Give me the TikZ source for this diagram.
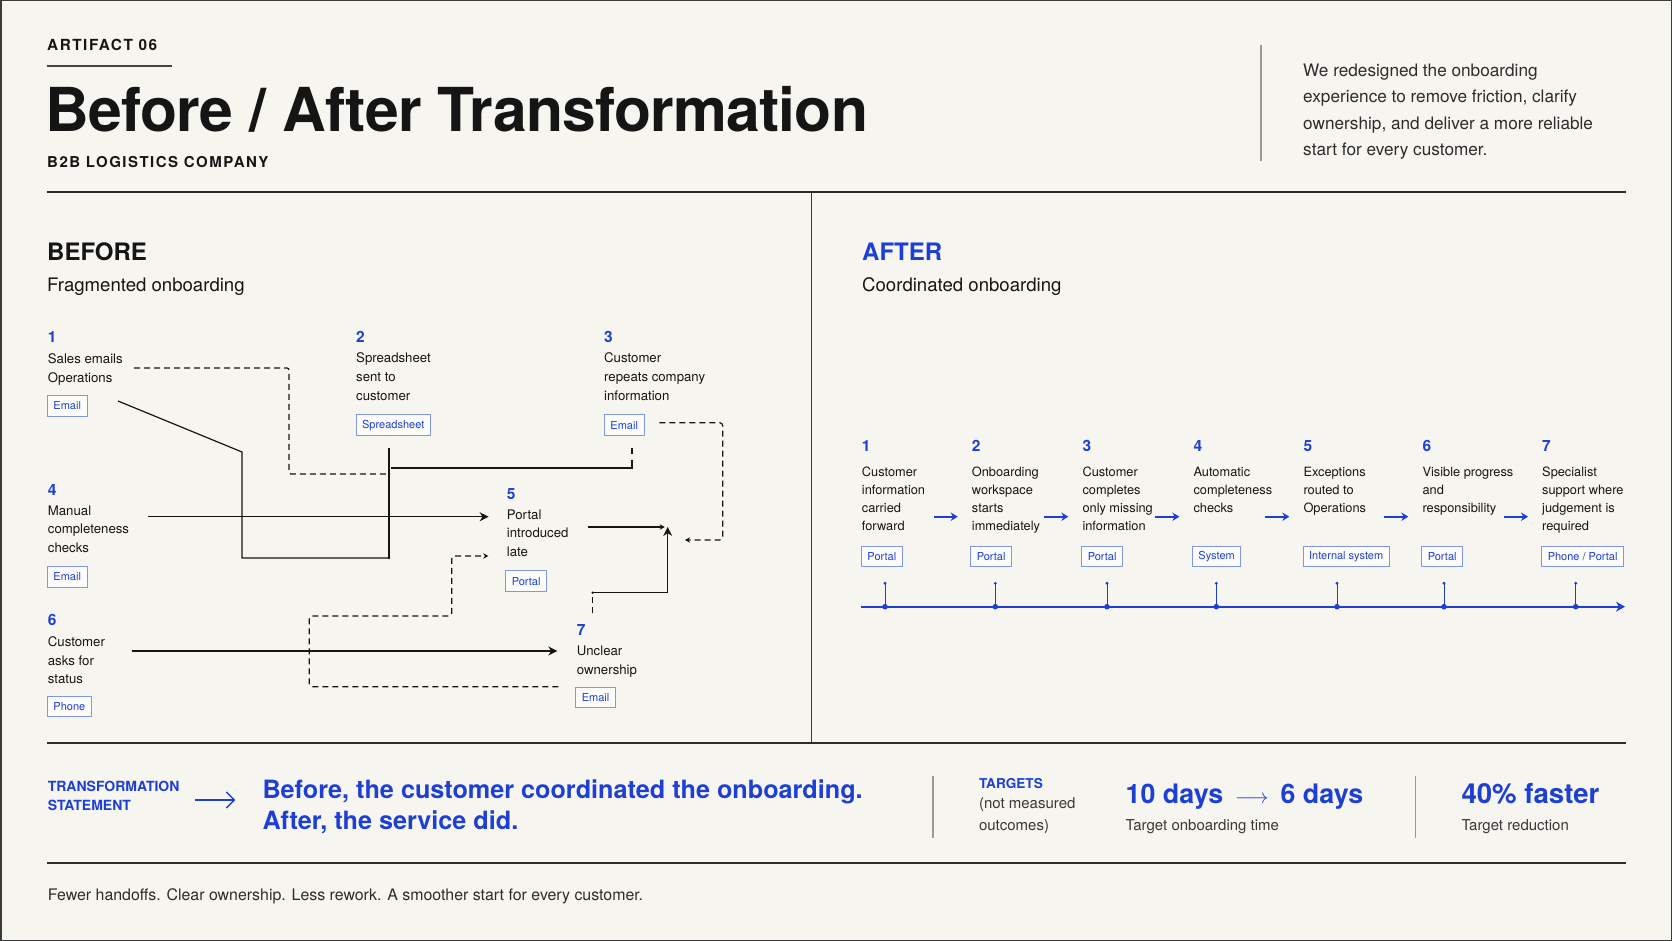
\documentclass[tikz,border=0pt]{standalone}
\usepackage{fontspec}
\setmainfont{TeX Gyre Heros}
\newfontfamily\trackfont[LetterSpace=10]{TeX Gyre Heros}
\newfontfamily\titlefont[LetterSpace=-1.2]{TeX Gyre Heros}
\usepackage{xcolor}
\usetikzlibrary{arrows.meta, positioning}

\definecolor{paper}{HTML}{F7F5F0}
\definecolor{ink}{HTML}{151515}
\definecolor{accent}{HTML}{1D3FD4}
\definecolor{tagline}{HTML}{8197E6}
\definecolor{tagfill}{HTML}{FCFCFB}
\definecolor{rulegray}{HTML}{9A9A9A}
\definecolor{frame}{HTML}{3A3A3A}

\newcommand{\fsz}[2]{\fontsize{#1}{#2}\selectfont}

\begin{document}
\begin{tikzpicture}[
        x=1pt, y=-1pt,
        num/.style={font=\fsz{15.5}{18}\bfseries, text=accent, inner sep=0, anchor=base west},
        btxt/.style={font=\fsz{13.2}{18.8}, text=ink, inner sep=0, anchor=north west, align=left},
        atxt/.style={font=\fsz{12.8}{18}, text=ink, inner sep=0, anchor=north west, align=left},
        tagbox/.style={draw=tagline, fill=tagfill, text=accent, font=\fsz{11}{13},
                       line width=0.9pt, inner xsep=6pt, inner ysep=0pt,
                       minimum height=20.7pt, anchor=north west},
        plain/.style={inner sep=0, anchor=base west, text=ink},
        flow/.style={ink, line width=1.2pt},
        dflow/.style={flow, dash pattern=on 6pt off 4pt},
        flowtip/.style={-{Stealth[length=9pt,width=9pt]}},
        stubtip/.style={-{Stealth[length=5pt,width=5.5pt]}},
        aarr/.style={accent, line width=1.6pt, -{Stealth[length=7pt,width=8.5pt]}},
        hrule/.style={ink!90, line width=1.6pt},
        divider/.style={rulegray, line width=1.2pt}
    ]
        \useasboundingbox (0,0) rectangle (1672,941);
        \fill[paper] (0,0) rectangle (1672,941);
        \draw[frame, line width=3pt] (0,0) rectangle (1672,941);

        % header
        \node[plain, font=\trackfont\fsz{15.3}{18}\bfseries] (artifact) at (47,50.7) {ARTIFACT 06};
        \draw[ink!80, line width=2pt] (47,65.7) -- (172,65.7);
        \node[plain, font=\titlefont\fsz{60.6}{66}\bfseries] (title) at (45,131.7) {Before / After Transformation};
        \node[plain, font=\trackfont\fsz{15}{18}\bfseries] (company) at (47,167.3) {B2B LOGISTICS COMPANY};
        \draw[divider, line width=1.5pt] (1261,45) -- (1261,161);
        \node[btxt, font=\fsz{17.2}{26.5}, text=ink!90] (intro) at (1303,63.5)
            {We redesigned the onboarding\\experience to remove friction, clarify\\ownership, and deliver a more reliable\\start for every customer.};
        \draw[hrule] (47,192) -- (1626,192);
        \draw[ink!85, line width=1.3pt] (811.5,192) -- (811.5,743);

        % before
        \node[plain, font=\fsz{24}{28}\bfseries] (before) at (47,260.7) {BEFORE};
        \node[plain, font=\fsz{18.6}{22}] (beforesub) at (47,291.7) {Fragmented onboarding};

        \coordinate (b1dash) at (134,368);
        \coordinate (b1line) at (118,401);
        \coordinate (b2drop) at (389,448);
        \coordinate (b2foot) at (389,558);
        \coordinate (b3drop) at (632,448);
        \coordinate (b3join) at (391,468);
        \coordinate (b4out) at (148,516.7);
        \coordinate (b5in) at (488.6,516.7);
        \coordinate (b6out) at (131.7,651);
        \coordinate (b7in) at (557.3,651);
        \coordinate (b5out) at (588.3,527);
        \coordinate (hub) at (667.7,527);
        \coordinate (b7out) at (592.7,613.3);
        \coordinate (b7turn) at (592.7,592.7);
        \coordinate (b3out) at (659.3,422.7);
        \coordinate (b3back) at (685,540);
        \coordinate (b7back) at (558.3,686.7);
        \coordinate (b5back) at (488.3,556);

        \draw[dflow, rounded corners=2pt] (b1dash) -- (289,368) -- (289,474) -- (390,474);
        \draw[flow] (b1line) -- (242,452) |- (b2foot);
        \draw[flow] (b2drop) -- (b2foot);
        \fill[ink] (b2foot) circle[radius=1.4pt];
        \draw[dflow] (b3drop) -- (632,458);
        \draw[flow] (632,460) |- (b3join);
        \draw[flow, flowtip] (b4out) -- (b5in);
        \draw[flow, flowtip] (b6out) -- (b7in);
        \draw[flow, stubtip] (b5out) -- ([xshift=-3pt]hub);
        \draw[dflow] (b7out) -- (592.7,597);
        \draw[flow, flowtip] (b7turn) -| (hub);
        \fill[ink] (b7turn) circle[radius=1.3pt];
        \draw[dflow, rounded corners=3pt, stubtip] (b3out) -- (722.7,422.7) -- (722.7,540) -- (b3back);
        \draw[dflow, rounded corners=3pt, stubtip] (b7back) -- (309.3,686.7) -- (309.3,616)
            -- (451.7,616) -- (451.7,556) -- (b5back);

        \node[num] (bn1) at (47.7,342.7) {1};
        \node[btxt] (bt1) at (47.7,353.3) {Sales emails\\Operations};
        \node[tagbox] (bg1) at (47,395) {Email};
        \node[num] (bn2) at (356,342.3) {2};
        \node[btxt] (bt2) at (356,352.7) {Spreadsheet\\sent to\\customer};
        \node[tagbox] (bg2) at (355.7,414.3) {Spreadsheet};
        \node[num] (bn3) at (604,342.3) {3};
        \node[btxt] (bt3) at (604,352.7) {Customer\\repeats company\\information};
        \node[tagbox] (bg3) at (604,414.3) {Email};
        \node[num] (bn4) at (47.7,495) {4};
        \node[btxt] (bt4) at (47.7,505.3) {Manual\\completeness\\checks};
        \node[tagbox] (bg4) at (47,566) {Email};
        \node[num] (bn5) at (506.7,499) {5};
        \node[btxt] (bt5) at (506.7,509.3) {Portal\\introduced\\late};
        \node[tagbox] (bg5) at (505.3,570.3) {Portal};
        \node[num] (bn6) at (47.7,625.7) {6};
        \node[btxt] (bt6) at (47.7,636.3) {Customer\\asks for\\status};
        \node[tagbox] (bg6) at (47,695.7) {Phone};
        \node[num] (bn7) at (576.7,635.7) {7};
        \node[btxt] (bt7) at (576.7,645.7) {Unclear\\ownership};
        \node[tagbox] (bg7) at (575.3,686.7) {Email};

        % after
        \node[plain, font=\fsz{24}{28}\bfseries, text=accent] (after) at (862,260.7) {AFTER};
        \node[plain, font=\fsz{18.6}{22}] (aftersub) at (862,291.7) {Coordinated onboarding};

        \node[num] (an1) at (861.7,451.7) {1};
        \node[atxt] (at1) at (861.7,466.7) {Customer\\information\\carried\\forward};
        \node[tagbox] (ag1) at (861,545.7) {Portal};
        \node[num] (an2) at (971.7,451.7) {2};
        \node[atxt] (at2) at (971.7,466.7) {Onboarding\\workspace\\starts\\immediately};
        \node[tagbox] (ag2) at (970.3,545.7) {Portal};
        \node[num] (an3) at (1082.3,451.7) {3};
        \node[atxt] (at3) at (1082.3,466.7) {Customer\\completes\\only missing\\information};
        \node[tagbox] (ag3) at (1081.3,545.7) {Portal};
        \node[num] (an4) at (1193.3,451.7) {4};
        \node[atxt] (at4) at (1193.3,466.7) {Automatic\\completeness\\checks};
        \node[tagbox] (ag4) at (1192,545.7) {System};
        \node[num] (an5) at (1303.3,451.7) {5};
        \node[atxt] (at5) at (1303.3,466.7) {Exceptions\\routed to\\Operations};
        \node[tagbox] (ag5) at (1302.7,545.7) {Internal system};
        \node[num] (an6) at (1422.3,451.7) {6};
        \node[atxt] (at6) at (1422.3,466.7) {Visible progress\\and\\responsibility};
        \node[tagbox] (ag6) at (1421.3,545.7) {Portal};
        \node[num] (an7) at (1542,451.7) {7};
        \node[atxt] (at7) at (1542,466.7) {Specialist\\support where\\judgement is\\required};
        \node[tagbox] (ag7) at (1541.3,545.7) {Phone / Portal};

        \coordinate (ay) at (0,516.7);
        \draw[aarr] ([xshift=-38pt]an2.base west |- ay) -- ([xshift=-14pt]an2.base west |- ay);
        \draw[aarr] ([xshift=-38pt]an3.base west |- ay) -- ([xshift=-14pt]an3.base west |- ay);
        \draw[aarr] ([xshift=-38pt]an4.base west |- ay) -- ([xshift=-14pt]an4.base west |- ay);
        \draw[aarr] ([xshift=-38pt]an5.base west |- ay) -- ([xshift=-14pt]an5.base west |- ay);
        \draw[aarr] ([xshift=-38pt]an6.base west |- ay) -- ([xshift=-14pt]an6.base west |- ay);
        \draw[aarr] ([xshift=-38pt]an7.base west |- ay) -- ([xshift=-14pt]an7.base west |- ay);

        % timeline
        \coordinate (tlstart) at (861,606.7);
        \coordinate (tlend) at (1625,606.7);
        \draw[accent, line width=1.6pt, -{Stealth[length=9pt,width=10pt]}] (tlstart) -- (tlend);
        \foreach \tx in {885,995.3,1107,1216.3,1337,1444,1575.7} {
            \draw[accent, line width=0.9pt] (\tx,583.3) -- (\tx,606.7);
            \fill[accent] (\tx,583.3) circle[radius=1.6pt];
            \fill[accent] (\tx,606.7) circle[radius=2.8pt];
        }

        % statement strip
        \draw[hrule] (47,743) -- (1626,743);
        \node[btxt, font=\fsz{14}{19}\bfseries, text=accent] (stmtlabel) at (47.6,781.2) {TRANSFORMATION\\STATEMENT};
        \node[btxt, font=\fsz{25.2}{31.6}\bfseries, text=accent] (stmt) at (262.3,779.3)
            {Before, the customer coordinated the onboarding.\\After, the service did.};
        \coordinate (arrowy) at (0,800);
        \draw[accent, line width=1.3pt, -{Straight Barb[length=8pt,width=16pt]}]
            ([xshift=15pt]stmtlabel.east |- arrowy) -- ([xshift=-27pt]stmt.west |- arrowy);

        \draw[divider] (933,776) -- (933,837.7);
        \node[plain, font=\fsz{13.6}{16}\bfseries, text=accent] (targets) at (978.8,788.3) {TARGETS};
        \node[btxt, font=\fsz{15}{22.4}, text=ink!85] (targetnote) at (978.8,797.3) {(not measured\\outcomes)};
        \node[plain, font=\fsz{26.8}{30}\bfseries, text=accent] (days) at (1125.5,803.3)
            {10 days\hspace{12pt}{\fsz{22}{22}$\longrightarrow$}\hspace{12pt}6 days};
        \node[plain, font=\fsz{15}{18}, text=ink!85] (dayslabel) at (1125.5,830.7) {Target onboarding time};
        \draw[divider] (1415.5,776) -- (1415.5,837.7);
        \node[plain, font=\fsz{27.6}{30}\bfseries, text=accent] (faster) at (1461.3,803.3) {40\% faster};
        \node[plain, font=\fsz{15}{18}, text=ink!85] (fasterlabel) at (1461.3,830.7) {Target reduction};
        \draw[hrule] (47,862.7) -- (1626,862.7);

        % footer
        \node[plain, font=\fsz{15.9}{18}, text=ink!90] (footer) at (47.6,900.7)
            {Fewer handoffs. Clear ownership. Less rework. A smoother start for every customer.};
    \end{tikzpicture}
\end{document}
